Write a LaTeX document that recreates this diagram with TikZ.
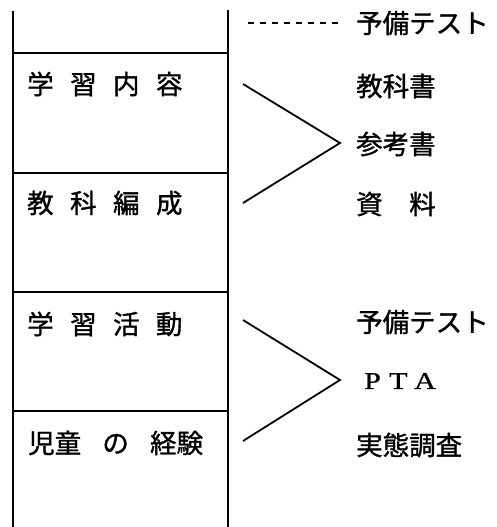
\documentclass[tikz,border=0pt]{standalone}
\usepackage{fontspec}
\usepackage{graphicx}
\newfontfamily\cjk[FakeBold=1.2]{Noto Sans CJK JP}
\newfontfamily\lat[FakeBold=0.8]{Liberation Serif}
\newcommand{\spacedletter}[1]{\makebox[25pt][l]{\scalebox{1.25}[1]{#1}}}
\begin{document}
\begin{tikzpicture}[x=1pt,y=-1pt,
  lbl/.style={font=\cjk\fontsize{26.5}{26.5}\selectfont, anchor=west, inner sep=0pt},
  rule/.style={line width=1.6pt},
  vrule/.style={line width=1.2pt},
  chev/.style={line width=1.8pt, line join=miter}]
\useasboundingbox (0,0) rectangle (496,527);
% table frame
\coordinate (lt) at (13,11);
\coordinate (lb) at (13,527);
\coordinate (rt) at (228,10);
\coordinate (rb) at (228,527);
\draw[vrule] (lt) -- (lb);
\draw[vrule] (rt) -- (rb);
\foreach \y/\n in {53/h1,173/h2,292/h3,411/h4}{
  \coordinate (\n l) at (13,\y);
  \coordinate (\n r) at (228,\y);
  \draw[rule] (\n l) -- (\n r);
}
% left labels
\node[lbl] (a1) at (27,84) {学\hspace{0.62em}習\hspace{0.62em}内\hspace{0.62em}容};
\node[lbl] (a2) at (27,203) {教\hspace{0.62em}科\hspace{0.62em}編\hspace{0.62em}成};
\node[lbl] (a3) at (27,324) {学\hspace{0.62em}習\hspace{0.62em}活\hspace{0.62em}動};
\node[lbl] (a4) at (28,443) {児童\hspace{0.8em}の\hspace{0.8em}経験};
% right labels
\node[lbl] (t0) at (356,23) {予備テスト};
\node[lbl] (b1) at (356,86) {教科書};
\node[lbl] (b2) at (356,144) {参考書};
\node[lbl] (b3) at (356,204) {資\hspace{1em}料};
\node[lbl] (c1) at (356,322) {予備テスト};
\node[lbl] (c2) at (364,381) {\lat\fontsize{24pt}{24pt}\selectfont\spacedletter{P}\spacedletter{T}\spacedletter{A}};
\node[lbl] (c3) at (356,445) {実態調査};
% dotted leader
\coordinate (d0) at (248,23);
\coordinate (d1) at (343,23);
\draw[line width=1.4pt, dash pattern=on 5.5pt off 6.5pt] (d0) -- (d1);
% chevrons
\coordinate (k1a) at (243,84);
\coordinate (k1m) at (340,143);
\coordinate (k1b) at (243,203);
\draw[chev] (k1a) -- (k1m) -- (k1b);
\coordinate (k2a) at (243,320);
\coordinate (k2m) at (340,380);
\coordinate (k2b) at (243,441);
\draw[chev] (k2a) -- (k2m) -- (k2b);
\end{tikzpicture}
\end{document}
